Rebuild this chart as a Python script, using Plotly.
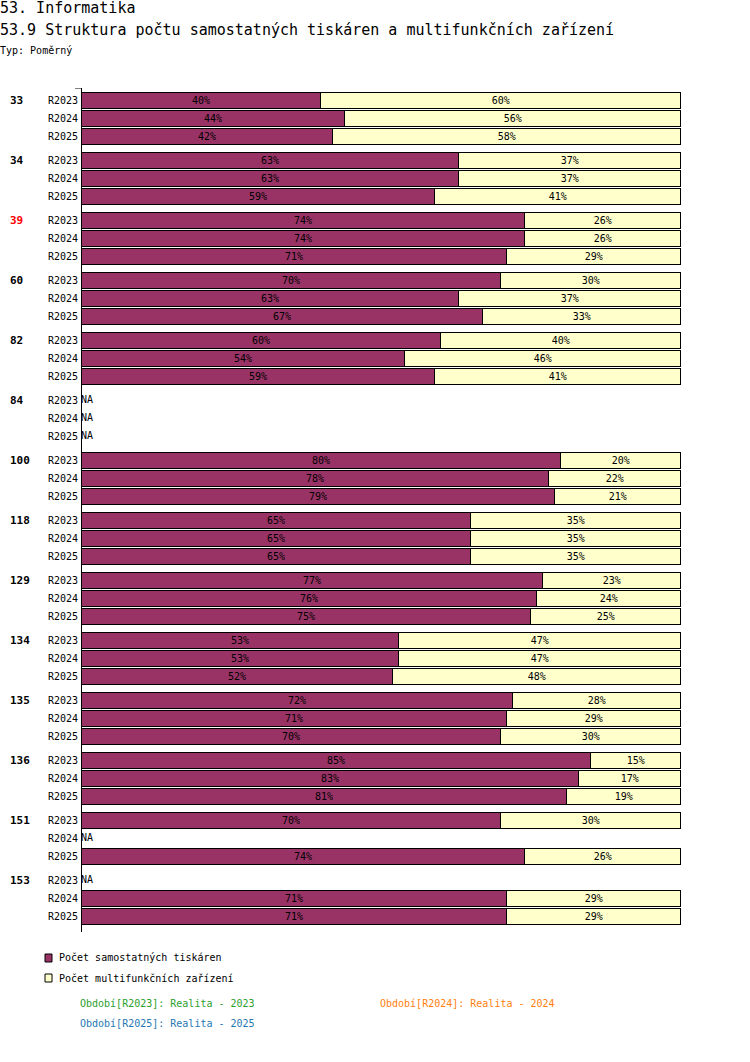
import plotly.graph_objects as go

# skupiny a období
groups = ["33", "34", "39", "60", "82", "84", "100", "118", "129", "134", "135", "136", "151", "153"]
periods = ["R2023", "R2024", "R2025"]
highlight = "39"

# podíl samostatných tiskáren [%] po skupinách a obdobích (None = NA)
printers = [
    [40, 44, 42],
    [63, 63, 59],
    [74, 74, 71],
    [70, 63, 67],
    [60, 54, 59],
    [None, None, None],
    [80, 78, 79],
    [65, 65, 65],
    [77, 76, 75],
    [53, 53, 52],
    [72, 71, 70],
    [85, 83, 81],
    [70, None, 74],
    [None, 71, 71],
]
# podíl multifunkčních zařízení [%]
multifunc = [
    [60, 56, 58],
    [37, 37, 41],
    [26, 26, 29],
    [30, 37, 33],
    [40, 46, 41],
    [None, None, None],
    [20, 22, 21],
    [35, 35, 35],
    [23, 24, 25],
    [47, 47, 48],
    [28, 29, 30],
    [15, 17, 19],
    [30, None, 26],
    [None, 29, 29],
]

series_names = ["Počet samostatných tiskáren", "Počet multifunkčních zařízení"]
series_colors = ["#993366", "#FFFFCC"]
period_notes = ["Období[R2023]: Realita - 2023", "Období[R2024]: Realita - 2024", "Období[R2025]: Realita - 2025"]
note_colors = ["#2ca02c", "#ff7f0e", "#1f77b4"]

FONT = "DejaVu Sans Mono"
GROUP_STEP, ROW_STEP = 60, 18

# plocha grafu v pixelech
PL, PR, PT, PB = 81, 682, 88, 932


def px_x(px):
    return (px - PL) / (PR - PL)


def px_y(py):
    return (PB - py) / (PB - PT)


ypos, ylab, v1, v2, na_y = [], [], [], [], []
for gi, g in enumerate(groups):
    for pi, p in enumerate(periods):
        y = gi * GROUP_STEP + pi * ROW_STEP
        ypos.append(y)
        ylab.append(p)
        a, b = printers[gi][pi], multifunc[gi][pi]
        v1.append(a)
        v2.append(b)
        if a is None:
            na_y.append(y)

fig = go.Figure()
for name, color, vals in zip(series_names, series_colors, [v1, v2]):
    fig.add_trace(go.Bar(
        x=vals, y=ypos, orientation="h", name=name,
        width=16, marker=dict(color=color, line=dict(color="black", width=1)),
        text=[f"{v}%" if v is not None else "" for v in vals],
        textposition="inside", insidetextanchor="middle",
        textfont=dict(family=FONT, size=10, color="black"),
        constraintext="none", hoverinfo="skip", showlegend=False,
    ))

# NA pro chybějící řádky
fig.add_trace(go.Scatter(
    x=[0] * len(na_y), y=na_y, mode="text", text=["NA"] * len(na_y),
    textposition="middle right", textfont=dict(family=FONT, size=10, color="black"),
    showlegend=False, hoverinfo="skip", cliponaxis=False,
))

# popisky skupin
for gi, g in enumerate(groups):
    fig.add_annotation(
        x=px_x(8), xref="paper", y=gi * GROUP_STEP, yref="y", xanchor="left",
        text=f"<b>{g}</b>", showarrow=False,
        font=dict(family=FONT, size=11, color="red" if g == highlight else "black"),
    )

# titulky
titles = [("53. Informatika", 8, 15),
          ("53.9 Struktura počtu samostatných tiskáren a multifunkčních zařízení", 30, 15),
          ("Typ: Poměrný", 50, 10)]
for txt, py_, size in titles:
    fig.add_annotation(x=px_x(-2), xref="paper", y=px_y(py_), yref="paper", xanchor="left", yanchor="middle",
                       text=txt, showarrow=False, font=dict(family=FONT, size=size, color="black"))

# legenda
for i, (name, color) in enumerate(zip(series_names, series_colors)):
    cy = 958 + i * 20
    fig.add_shape(type="rect", xref="paper", yref="paper",
                  x0=px_x(45), x1=px_x(52), y0=px_y(cy - 4), y1=px_y(cy + 4),
                  fillcolor=color, line=dict(color="black", width=1))
    fig.add_annotation(x=px_x(57), xref="paper", y=px_y(cy), yref="paper", xanchor="left", yanchor="middle",
                       text=name, showarrow=False, font=dict(family=FONT, size=10, color="black"))

# poznámky k obdobím
note_pos = [(78, 1003), (378, 1003), (78, 1023)]
for txt, col, (px_, py_) in zip(period_notes, note_colors, note_pos):
    fig.add_annotation(x=px_x(px_), xref="paper", y=px_y(py_), yref="paper",
                       xanchor="left", yanchor="middle", text=txt, showarrow=False,
                       font=dict(family=FONT, size=10, color=col))

# svislá osa
top = -12
bottom = (len(groups) - 1) * GROUP_STEP + 2 * ROW_STEP + 16
fig.add_shape(type="line", xref="x", yref="y", x0=0, x1=0, y0=top, y1=bottom,
              line=dict(color="black", width=2))
fig.add_shape(type="line", xref="paper", yref="y", x0=px_x(75), x1=0, y0=top, y1=top,
              line=dict(color="black", width=1))

fig.update_layout(
    width=750, height=1062,
    barmode="stack",
    plot_bgcolor="white", paper_bgcolor="white",
    margin=dict(l=PL, r=750 - PR, t=PT, b=1062 - PB),
    font=dict(family=FONT, size=10, color="black"),
    showlegend=False,
)
fig.update_xaxes(range=[0, 100.2], visible=False, fixedrange=True)
fig.update_yaxes(range=[bottom, top], tickvals=ypos, ticktext=ylab, showgrid=False,
                 zeroline=False, showline=False, ticks="", ticklabelstandoff=2,
                 tickfont=dict(family=FONT, size=10))

# bez okraje stránky, aby graf seděl na pixely
fig.write_html("out.html", config={"displayModeBar": False},
               post_script="document.body.style.margin='0px';")
